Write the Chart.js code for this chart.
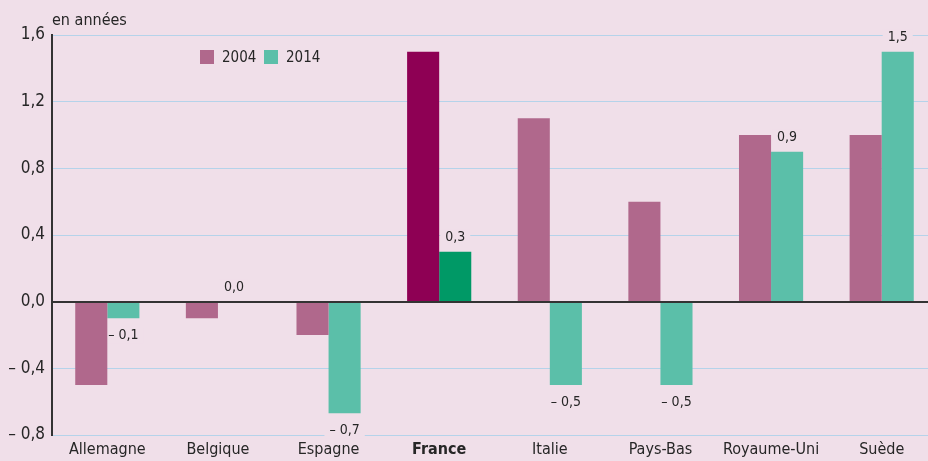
<!DOCTYPE html>
<html lang="fr">
<head>
<meta charset="utf-8">
<script src="https://cdn.jsdelivr.net/npm/chart.js@4/dist/chart.umd.min.js"></script>
<style>
    html, body { margin: 0; padding: 0; overflow: hidden; background: #f0dfe9; }
    #wrap { position: relative; width: 940px; height: 461px; }
</style>
</head>
<body>
<div id="wrap"><canvas id="chart"></canvas></div>
<script>
// Chart data
const countries = ['Allemagne', 'Belgique', 'Espagne', 'France', 'Italie', 'Pays-Bas', 'Royaume-Uni', 'Suède'];
const values2004 = [-0.5, -0.1, -0.2, 1.5, 1.1, 0.6, 1.0, 1.0];
const values2014 = [-0.1, 0.0, -0.67, 0.3, -0.5, -0.5, 0.9, 1.5];
const yTicks = [-0.8, -0.4, 0, 0.4, 0.8, 1.2, 1.6];
const highlight = 'France';

// Colours
const BG = '#f0dfe9';
const COL_2004 = '#b0688c';
const COL_2014 = '#5bbfa9';
const COL_2004_HL = '#8e0054';
const COL_2014_HL = '#009966';
const TEXT = '#262626';
const FONT = "'DejaVu Sans Condensed', 'DejaVu Sans', sans-serif";

function frNumber(v) {
    const s = Math.abs(v).toFixed(1).replace('.', ',');
    return v < -0.0001 ? '\u2013 ' + s : s;
}

// where the value label of a 2014 bar sits
function labelPos(bar, v) {
    return { x: bar.x, y: v >= 0 ? bar.y - 14 : bar.y + 17 };
}

// Value labels on the 2014 bars, zero line, legend, unit
const annotations = {
    id: 'annotations',
    beforeDatasetsDraw(chart) {
        // label backgrounds hide the grid lines, bars are drawn over them
        const ctx = chart.ctx;
        const meta = chart.getDatasetMeta(1);
        ctx.save();
        ctx.font = '14px ' + FONT;
        ctx.fillStyle = BG;
        meta.data.forEach((bar, i) => {
            const p = labelPos(bar, values2014[i]);
            const w = ctx.measureText(frNumber(values2014[i])).width;
            ctx.fillRect(p.x - w / 2 - 5, p.y - 8, w + 10, 16);
        });
        ctx.restore();
    },
    afterDatasetsDraw(chart) {
        const ctx = chart.ctx;
        const area = chart.chartArea;
        const yScale = chart.scales.y;
        ctx.save();

        // zero line on top of the bars
        const y0 = Math.round(yScale.getPixelForValue(0));
        ctx.strokeStyle = '#333';
        ctx.lineWidth = 2;
        ctx.beginPath();
        ctx.moveTo(area.left, y0);
        ctx.lineTo(area.right + 10, y0);
        ctx.stroke();

        const meta = chart.getDatasetMeta(1);
        ctx.font = '14px ' + FONT;
        ctx.textAlign = 'center';
        ctx.textBaseline = 'middle';
        ctx.fillStyle = TEXT;
        meta.data.forEach((bar, i) => {
            const p = labelPos(bar, values2014[i]);
            ctx.fillText(frNumber(values2014[i]), p.x, p.y);
        });

        // legend
        ctx.textAlign = 'left';
        ctx.font = '15px ' + FONT;
        const items = [['2004', COL_2004, 200], ['2014', COL_2014, 264]];
        items.forEach(([label, color, x]) => {
            ctx.fillStyle = color;
            ctx.fillRect(x, 50, 14, 14);
            ctx.fillStyle = TEXT;
            ctx.fillText(label, x + 22, 58);
        });

        // unit
        ctx.font = '16px ' + FONT;
        ctx.fillText('en années', 52, 21);
        ctx.restore();
    }
};

const ctx = document.getElementById('chart').getContext('2d');
new Chart(ctx, {
    type: 'bar',
    data: {
        labels: countries,
        datasets: [{
            label: '2004',
            data: values2004,
            backgroundColor: countries.map(c => c === highlight ? COL_2004_HL : COL_2004)
        }, {
            label: '2014',
            data: values2014,
            backgroundColor: countries.map(c => c === highlight ? COL_2014_HL : COL_2014)
        }]
    },
    options: {
        responsive: true,
        maintainAspectRatio: false,
        animation: false,
        layout: { padding: { top: 35, left: 0, right: 3, bottom: 0 } },
        datasets: {
            bar: { categoryPercentage: 0.58, barPercentage: 1.0 }
        },
        plugins: {
            legend: { display: false },
            tooltip: { enabled: false }
        },
        scales: {
            x: {
                grid: { display: false, drawTicks: false },
                border: { display: false },
                ticks: {
                    padding: 5,
                    color: TEXT,
                    font: ctx => ({
                        family: FONT,
                        size: 16,
                        weight: countries[ctx.index] === highlight ? 'bold' : 'normal'
                    })
                },
                afterFit(scale) { scale.height = 26; }
            },
            y: {
                min: -0.8,
                max: 1.6,
                afterBuildTicks(scale) {
                    scale.ticks = yTicks.map(v => ({ value: v }));
                },
                grid: {
                    drawTicks: false,
                    color: c => Math.abs(c.tick.value) < 1e-6 ? 'rgba(0,0,0,0)' : '#b5d3ea',
                    lineWidth: 1
                },
                border: { display: true, color: '#333', width: 2 },
                ticks: {
                    padding: 7,
                    color: TEXT,
                    font: { family: FONT, size: 17 },
                    callback: v => frNumber(v)
                },
                afterFit(scale) { scale.width = 52; }
            }
        }
    },
    plugins: [annotations]
});
</script>
</body>
</html>
